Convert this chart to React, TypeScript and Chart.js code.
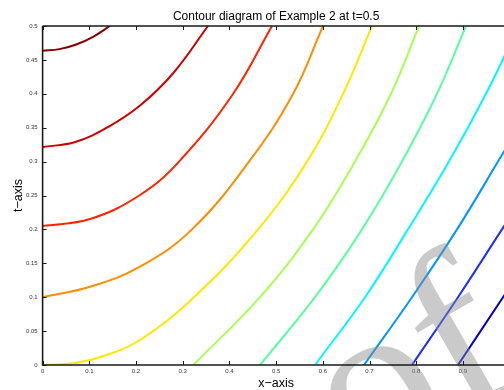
import { useEffect, useRef } from "react";
import { Chart, registerables } from "chart.js";

Chart.register(...registerables);

const chartTitle = "Contour diagram of Example 2 at t=0.5";
const xAxisLabel = "x\u2212axis";
const tAxisLabel = "t\u2212axis";
const watermarkText = "of";

const xTicks = [0, 0.1, 0.2, 0.3, 0.4, 0.5, 0.6, 0.7, 0.8, 0.9, 1];
const xTickLabels = ["0", "0.1", "0.2", "0.3", "0.4", "0.5", "0.6", "0.7", "0.8", "0.9", "1"];
const tTicks = [0, 0.05, 0.1, 0.15, 0.2, 0.25, 0.3, 0.35, 0.4, 0.45, 0.5];
const tTickLabels = ["0", "0.05", "0.1", "0.15", "0.2", "0.25", "0.3", "0.35", "0.4", "0.45", "0.5"];

// contour lines: x positions and matching t positions
const c1x = [0, 0.036, 0.072, 0.108, 0.144];
const c1t = [0.4636, 0.4659, 0.4727, 0.4841, 0.5];
const c2x = [0, 0.07, 0.14, 0.21, 0.28, 0.3542];
const c2t = [0.3215, 0.3289, 0.351, 0.3835, 0.4307, 0.5];
const c3x = [0, 0.1015, 0.2086, 0.2921, 0.4077, 0.4912];
const c3t = [0.205, 0.2153, 0.2507, 0.3, 0.3997, 0.5];
const c4x = [0, 0.1015, 0.2086, 0.3199, 0.442, 0.5362, 0.6004];
const c4t = [0.0999, 0.1153, 0.145, 0.2, 0.3, 0.3997, 0.5];
const c5x = [0, 0.07, 0.1373, 0.2086, 0.3242, 0.4612, 0.5662, 0.6432, 0.7054];
const c5t = [0, 0.003, 0.0147, 0.0369, 0.1, 0.2, 0.3, 0.3997, 0.5];
const c6x = [0.3227, 0.4655, 0.579, 0.669, 0.746, 0.806];
const c6t = [0, 0.1, 0.2, 0.3, 0.4, 0.5];
const c7x = [0.4655, 0.5833, 0.6839, 0.7696, 0.8445, 0.9066];
const c7t = [0, 0.1, 0.2, 0.3, 0.4, 0.5];
const c8x = [0.5833, 0.6904, 0.7824, 0.8702, 0.9495, 1.01];
const c8t = [0, 0.1, 0.2, 0.3, 0.4, 0.486];
const c9x = [0.6882, 0.791, 0.8874, 0.9752, 1.01];
const c9t = [0, 0.1, 0.2, 0.3, 0.34];
const c10x = [0.791, 0.8895, 0.9837, 1.01];
const c10t = [0, 0.1, 0.2, 0.228];
const c11x = [0.8895, 0.9859, 1.01];
const c11t = [0, 0.1, 0.125];

const curveXs = [c1x, c2x, c3x, c4x, c5x, c6x, c7x, c8x, c9x, c10x, c11x];
const curveTs = [c1t, c2t, c3t, c4t, c5t, c6t, c7t, c8t, c9t, c10t, c11t];
const curveColors = [
  "#840000", "#cc0000", "#ff2400", "#ff8c00", "#ffe800", "#a8ff50",
  "#58ffa0", "#00f8ff", "#0096ff", "#1a30ff", "#0000cc",
];

const framePlugin = {
  id: "frame",
  afterDatasetsDraw(chart: any) {
    const ctx = chart.ctx;
    ctx.save();
    ctx.fillStyle = "rgba(140,140,140,0.46)";
    ctx.font = "230px 'Liberation Serif'";
    ctx.translate(360, 477);
    ctx.rotate((-30 * Math.PI) / 180);
    ctx.textBaseline = "alphabetic";
    ctx.textAlign = "left";
    ctx.fillText(watermarkText, 0, 0);
    ctx.restore();
  },
  afterDraw(chart: any) {
    const ctx = chart.ctx;
    const { left, right, top, bottom } = chart.chartArea;
    const xs = chart.scales.x;
    const ys = chart.scales.y;
    ctx.save();
    ctx.strokeStyle = "#1a1a1a";
    ctx.lineWidth = 1.6;
    ctx.beginPath();
    ctx.moveTo(left, top);
    ctx.lineTo(right, top);
    ctx.moveTo(left, top);
    ctx.lineTo(left, bottom);
    ctx.lineTo(right, bottom);
    ctx.stroke();
    ctx.lineWidth = 1;
    ctx.beginPath();
    xTicks.forEach((v) => {
      const px = Math.round(xs.getPixelForValue(v)) + 0.5;
      ctx.moveTo(px, bottom);
      ctx.lineTo(px, bottom - 4);
      ctx.moveTo(px, top);
      ctx.lineTo(px, top + 4);
    });
    tTicks.forEach((v) => {
      const py = Math.round(ys.getPixelForValue(v)) + 0.5;
      ctx.moveTo(left, py);
      ctx.lineTo(left + 4, py);
    });
    ctx.stroke();
    ctx.fillStyle = "#000";
    ctx.textAlign = "center";
    ctx.textBaseline = "alphabetic";
    ctx.font = "12px 'Liberation Sans'";
    const cx = (left + right) / 2;
    ctx.fillText(chartTitle, cx, 20);
    ctx.font = "12.5px 'Liberation Sans'";
    ctx.fillText(xAxisLabel, cx, 387);
    ctx.save();
    ctx.translate(22, (top + bottom) / 2);
    ctx.rotate(-Math.PI / 2);
    ctx.fillText(tAxisLabel, 0, 0);
    ctx.restore();
    ctx.restore();
  },
};

export default function App() {
  const ref = useRef<HTMLCanvasElement | null>(null);
  useEffect(() => {
    if (!ref.current) return;
    const datasets = curveXs.map((xsArr, i) => ({
      label: "level " + (i + 1),
      data: xsArr.map((x, j) => ({ x, y: curveTs[i][j] })),
      borderColor: curveColors[i],
      backgroundColor: curveColors[i],
      borderWidth: 2,
      pointRadius: 0,
      showLine: true,
      fill: false,
      tension: 0.4,
    }));
    const chart = new Chart(ref.current, {
      type: "scatter",
      data: { datasets },
      plugins: [framePlugin],
      options: {
        animation: false,
        responsive: false,
        devicePixelRatio: 1,
        layout: { padding: { left: 0, right: 10.4, top: 26, bottom: 0 } },
        plugins: {
          legend: { display: false },
          title: { display: false },
          tooltip: { enabled: false },
        },
        scales: {
          x: {
            type: "linear",
            min: 0,
            max: 1,
            grid: { display: false, drawTicks: false },
            border: { display: false },
            afterBuildTicks: (s: any) => {
              s.ticks = xTicks.map((v) => ({ value: v }));
            },
            afterFit: (s: any) => {
              s.height = 25;
            },
            ticks: {
              autoSkip: false,
              maxRotation: 0,
              padding: 3,
              color: "#333",
              font: { family: "'Liberation Sans'", size: 6 },
              callback: (v: any) => xTickLabels[xTicks.indexOf(Number(v))] ?? "",
            },
          },
          y: {
            type: "linear",
            min: 0,
            max: 0.5,
            grid: { display: false, drawTicks: false },
            border: { display: false },
            afterBuildTicks: (s: any) => {
              s.ticks = tTicks.map((v) => ({ value: v }));
            },
            afterFit: (s: any) => {
              s.width = 42.6;
            },
            ticks: {
              autoSkip: false,
              padding: 5,
              color: "#333",
              font: { family: "'Liberation Sans'", size: 6 },
              callback: (v: any) => tTickLabels[tTicks.indexOf(Number(v))] ?? "",
            },
          },
        },
      },
    });
    return () => chart.destroy();
  }, []);
  return (
    <div
      style={{
        position: "fixed",
        left: 0,
        top: 0,
        width: 504,
        height: 390,
        overflow: "hidden",
        background: "#fff",
      }}
    >
      <canvas ref={ref} width={520} height={390} style={{ display: "block", width: 520, height: 390 }} />
    </div>
  );
}
